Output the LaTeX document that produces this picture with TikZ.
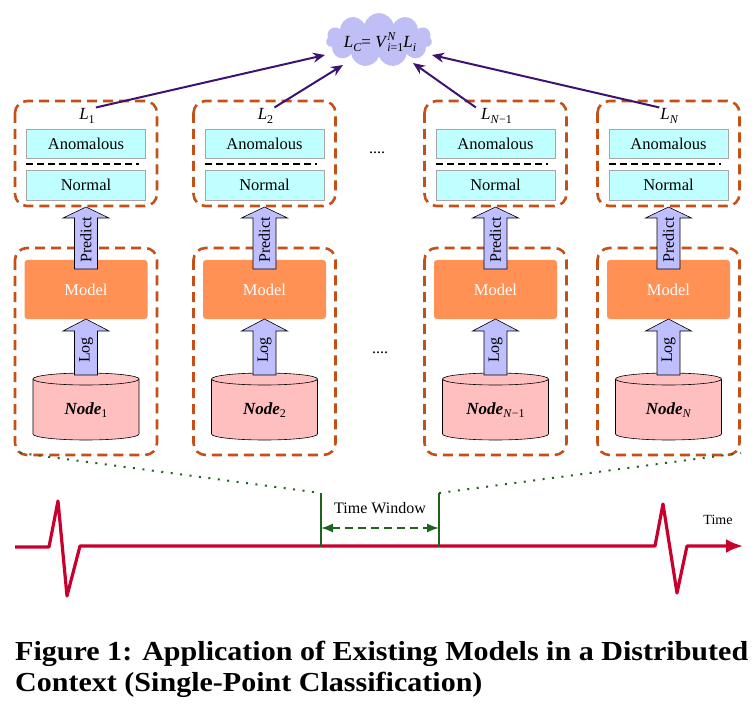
\documentclass[tikz,border=0pt]{standalone}
\usepackage{fontspec}
\setmainfont{Liberation Serif}
\usepackage{graphicx}
\usetikzlibrary{arrows.meta,shapes.symbols}
\definecolor{grpc}{RGB}{196,80,22}
\definecolor{clsc}{RGB}{191,255,255}
\definecolor{modc}{RGB}{255,145,85}
\definecolor{arrc}{RGB}{191,191,255}
\definecolor{cylc}{RGB}{255,191,191}
\definecolor{cloudc}{RGB}{191,191,245}
\definecolor{purpc}{RGB}{60,20,112}
\definecolor{redc}{RGB}{200,0,45}
\definecolor{grnc}{RGB}{30,100,30}
\newcommand{\mysub}[1]{\raisebox{-0.45ex}{\fontsize{12}{12}\selectfont #1}}
\newcommand{\mysupsub}[2]{\rlap{\raisebox{0.95ex}{\fontsize{12}{12}\selectfont #1}}\raisebox{-0.45ex}{\fontsize{12}{12}\selectfont #2}}
\newsavebox\capboxA
\newsavebox\capboxB
\newcommand{\capfont}{\fontsize{27.5}{30}\selectfont\bfseries}
\newcommand{\capone}{Figure 1: Application of Existing Models in a Distributed}
\newcommand{\captwo}{Context (Single-Point Classification)}
\begin{document}
\begin{tikzpicture}[x=1pt,y=-1pt,
  grpbox/.style={draw=grpc,line width=2.6pt,dash pattern=on 10pt off 6pt,rounded corners=12pt},
  clsbox/.style={draw=gray!70,fill=clsc,minimum width=119pt,minimum height=29.5pt,inner sep=0pt,font=\fontsize{16.5}{18}\selectfont},
  sepline/.style={draw=black,line width=1.5pt,dash pattern=on 7pt off 4pt},
  modelbox/.style={fill=modc,minimum width=123pt,minimum height=59pt,rounded corners=3pt,inner sep=0pt,text=white,font=\fontsize{16.5}{18}\selectfont},
  barrow/.style={draw=black,line width=0.6pt,fill=arrc},
  arrtext/.style={rotate=90,inner sep=0pt,font=\fontsize{16}{18}\selectfont},
  cylf/.style={draw=black,line width=0.6pt,fill=cylc},
  nodetext/.style={inner sep=0pt,font=\fontsize{17}{19}\selectfont},
  ltext/.style={inner sep=1pt,font=\fontsize{17}{19}\selectfont},
  purp/.style={draw=purpc,line width=2pt,-{Stealth[length=12pt,width=10pt]}},
  redline/.style={draw=redc,line width=3.2pt,line join=round},
  grnline/.style={draw=grnc,line width=1.6pt},
  dotl/.style={draw=grnc,line width=2pt,dash pattern=on 2pt off 7.5pt},
  plain/.style={inner sep=0pt,font=\fontsize{16}{18}\selectfont}]
\useasboundingbox (0,0) rectangle (756,706);

\foreach \cx/\k/\lab/\nd in {
  86/a/{\textit{L}\mysub{1}}/{\textbf{\textit{Node}}\mysub{1}},
  264.5/b/{\textit{L}\mysub{2}}/{\textbf{\textit{Node}}\mysub{2}},
  495.5/c/{\textit{L}\mysub{\textit{N}−1}}/{\textbf{\textit{Node}}\mysub{\textit{N}−1}},
  668.5/d/{\textit{L}\mysub{\textit{N}}}/{\textbf{\textit{Node}}\mysub{\textit{N}}}}{
  % upper group
  \draw[grpbox] (\cx-71,101) rectangle (\cx+71,206);
  \node[ltext] (L\k) at (\cx+1,116) {\lab};
  \node[clsbox] (an\k) at (\cx,143.5) {Anomalous};
  \node[clsbox] (no\k) at (\cx,185) {Normal};
  \draw[sepline] (an\k.south west |- 0,164) -- ([xshift=-7pt]an\k.south east |- 0,164);
  % lower group
  \draw[grpbox] (\cx-71,248) rectangle (\cx+71,455);
  \node[modelbox] (m\k) at (\cx,289.5) {Model};
  % cylinder
  \fill[cylc] (\cx-53,379) -- (\cx-53,434) arc[start angle=180,end angle=360,x radius=53pt,y radius=6pt] -- (\cx+53,379) -- cycle;
  \draw[line width=0.6pt] (\cx-53,379) -- (\cx-53,434) arc[start angle=180,end angle=360,x radius=53pt,y radius=6pt] -- (\cx+53,379);
  \draw[cylf] (\cx,379) ellipse[x radius=53pt,y radius=6pt];
  \node[nodetext] (n\k) at (\cx,410) {\nd};
  % Predict arrow
  \draw[barrow] (\cx-11.5,269) -- (\cx-11.5,218) -- (\cx-23,218) -- (\cx,207) -- (\cx+23,218) -- (\cx+11.5,218) -- (\cx+11.5,269) -- cycle;
  \node[arrtext] (pr\k) at (\cx,240) {Predict};
  % Log arrow
  \draw[barrow] (\cx-11.5,375) -- (\cx-11.5,331) -- (\cx-23,331) -- (\cx,319) -- (\cx+23,331) -- (\cx+11.5,331) -- (\cx+11.5,375) -- cycle;
  \node[arrtext] (lg\k) at (\cx,350) {Log};
}

\node[plain] (dotsu) at (377,153) {....};
\node[plain] (dotsl) at (380,353) {....};

% cloud
\node[cloud,cloud puffs=11,aspect=2,fill=cloudc,minimum width=106pt,minimum height=54pt,inner sep=0pt] (lc) at (379,40) {};
\node[inner sep=0pt,font=\fontsize{17}{19}\selectfont] (lct) at (380,42)
  {\textit{L}\mysub{\textit{C}}= \textit{V}\mysupsub{\textit{N}}{\textit{i}=1}\textit{L}\mysub{\textit{i}}};
\coordinate (ca) at (325,55);
\coordinate (cb) at (343,65);
\coordinate (cc) at (413,63);
\coordinate (cd) at (432,55);
\draw[purp] (La.north east) -- (ca);
\draw[purp] (Lb.north east) -- (cb);
\draw[purp] ([xshift=-4pt]Lc.north west) -- (cc);
\draw[purp] (Ld.north west) -- (cd);

% time line
\draw[redline,-{Latex[length=17pt,width=14pt]}] (15,547) -- (49,547) -- (58,501) -- (67,596) -- (80,546) -- (655,546) -- (663,504) -- (677,593) -- (687,546) -- (743,546);
\node[inner sep=0pt,font=\fontsize{14}{16}\selectfont] (time) at (718,520) {Time};

% time window
\coordinate (w1t) at (321,493);
\coordinate (w1b) at (321,547);
\coordinate (w2t) at (439,493);
\coordinate (w2b) at (439,547);
\draw[grnline] (w1t) -- (w1b);
\draw[grnline] (w2t) -- (w2b);
\coordinate (w1m) at (321,528);
\coordinate (w2m) at (439,528);
\draw[grnline,dash pattern=on 8pt off 5pt,{Latex[length=12pt,width=9pt]}-{Latex[length=12pt,width=9pt]}] (w1m) -- (w2m);
\node[plain] (tw) at (380,508) {Time Window};
\coordinate (bl) at (20,453);
\coordinate (br) at (741,453);
\draw[dotl] (bl) -- (w1t);
\draw[dotl] (w2t) -- (br);

% caption
\node[anchor=base west,inner sep=0pt] (cap1) at (15,660) {\sbox\capboxA{\capfont\capone}\scalebox{\fpeval{733pt/\the\wd\capboxA}}[1]{\usebox\capboxA}};
\node[anchor=base west,inner sep=0pt] (cap2) at (15,691) {\sbox\capboxA{\capfont\capone}\sbox\capboxB{\capfont\captwo}\scalebox{\fpeval{733pt/\the\wd\capboxA}}[1]{\usebox\capboxB}};
\end{tikzpicture}
\end{document}
